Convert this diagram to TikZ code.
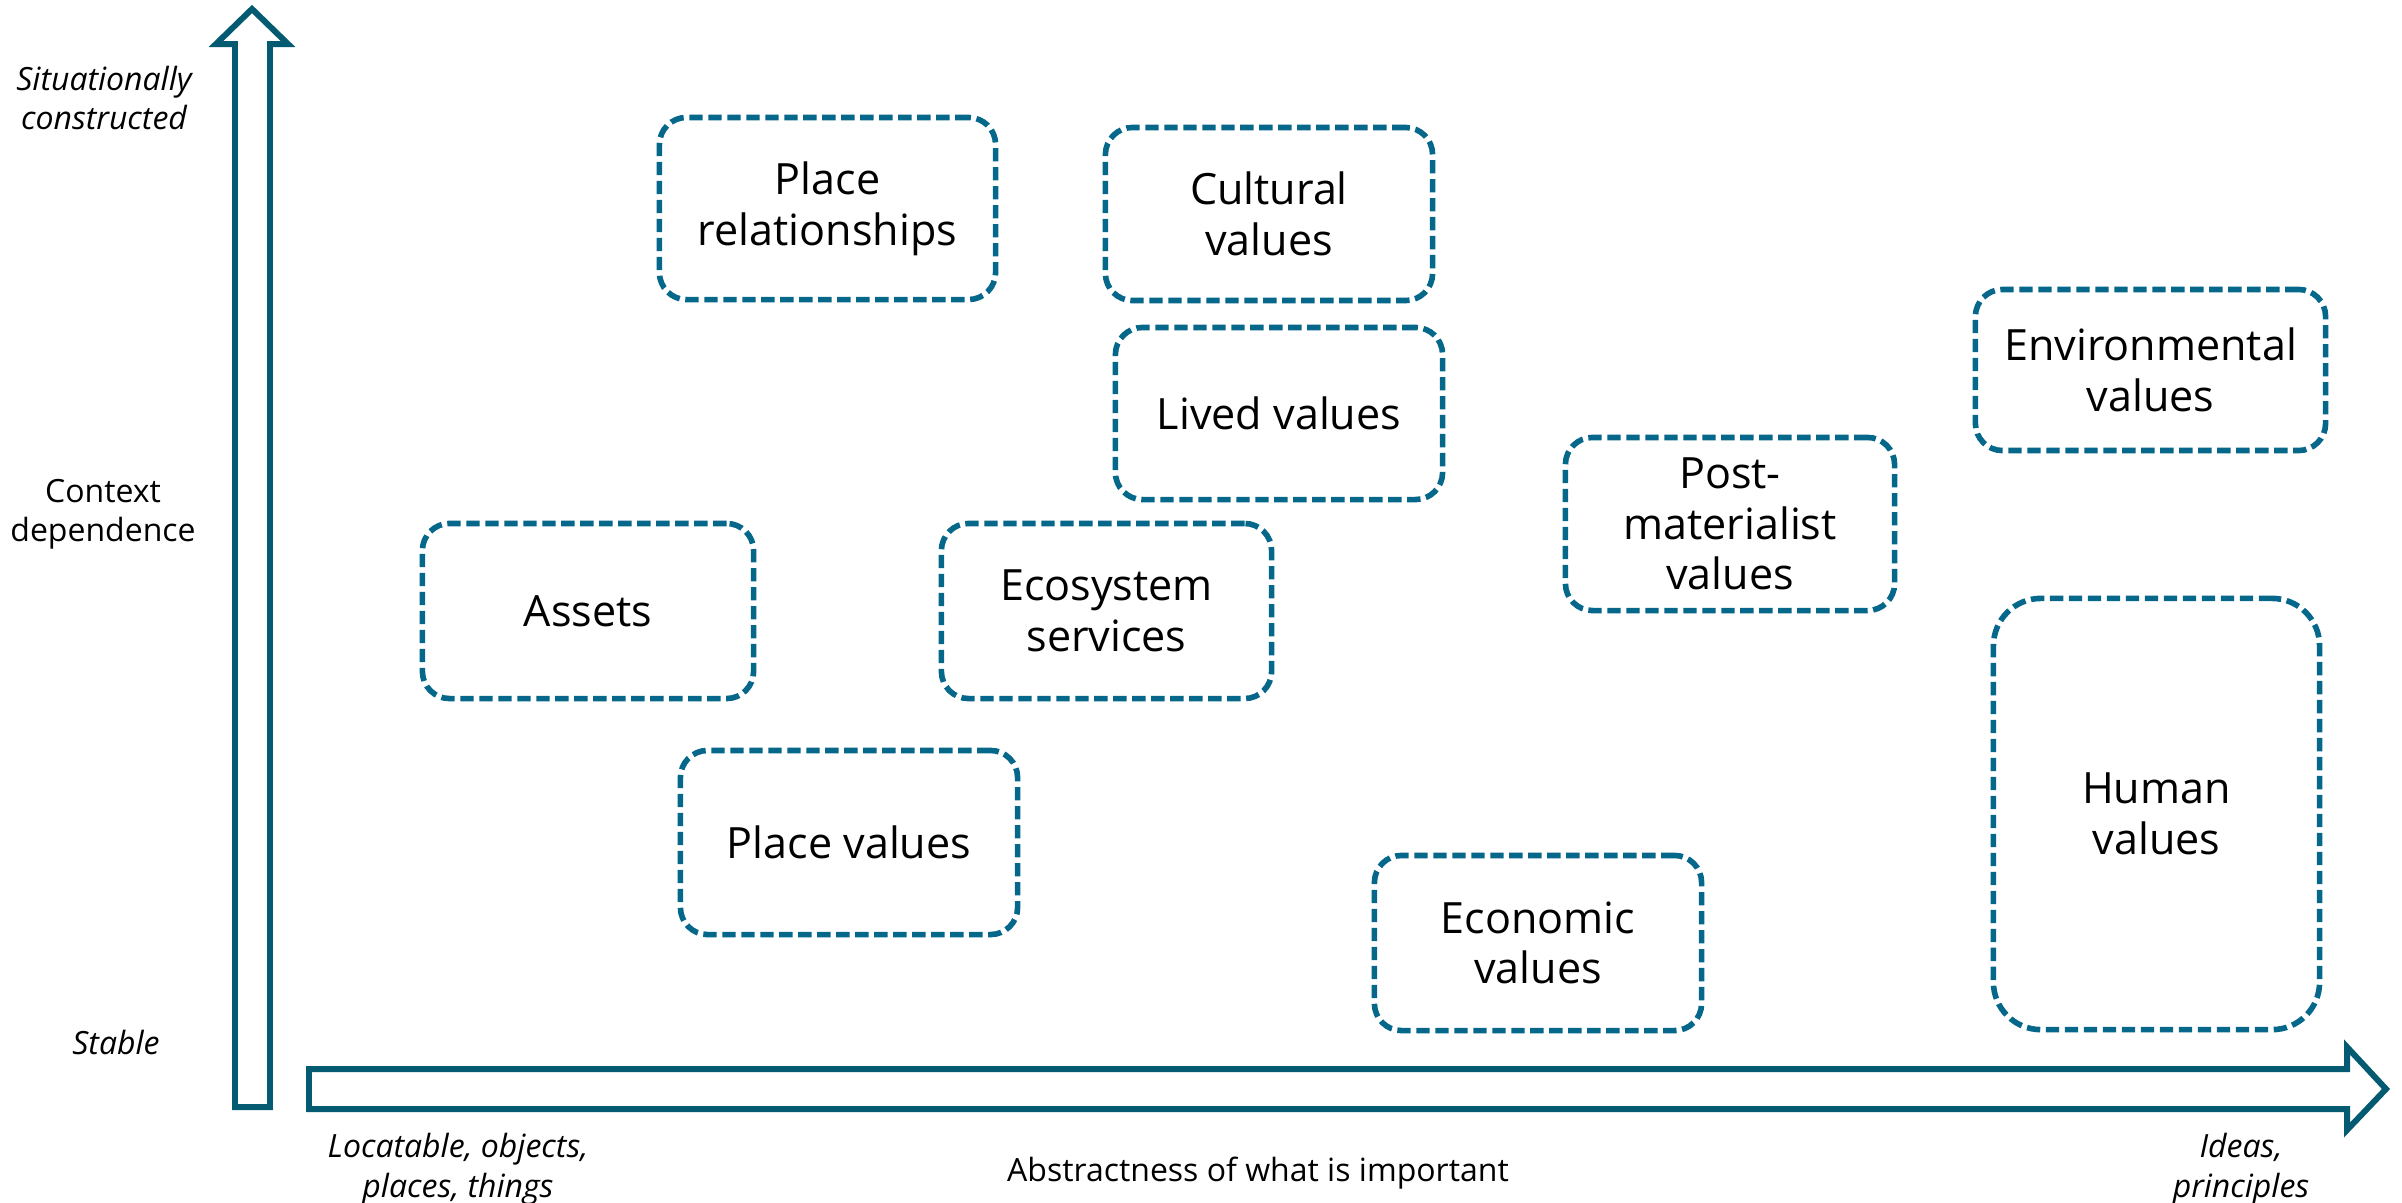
\documentclass[tikz,border=0pt]{standalone}
\usepackage{fontspec}
\setmainfont{Open Sans}
\definecolor{axisteal}{HTML}{045A70}
\definecolor{boxteal}{HTML}{05678A}
\tikzset{valbox/.style = {draw=boxteal, line width=1.6pt, dash pattern=on 3.8pt off 1.6pt, rounded corners=7.7pt, align=center, inner sep=0, font=\fontsize{12.25}{14.4}\selectfont}}
\tikzset{axislabel/.style = {align=center, inner sep=0, font=\fontsize{9.1}{11.2}\selectfont}}

\begin{document}
\begin{tikzpicture}[x=0.01cm, y=-0.01cm,
    axis/.style={draw=axisteal, line width=1.7pt, line join=miter},
    ]
    \useasboundingbox (0,0) rectangle (2402,1202);

    % Vertical axis arrow
    \draw[axis] (252,9) -- (288,44) -- (270,44) -- (270,1107) -- (235,1107) -- (235,44) -- (216,44) -- cycle;
    % Horizontal axis arrow
    \draw[axis] (2386,1089) -- (2347,1130) -- (2347,1109) -- (309,1109) -- (309,1069) -- (2347,1069) -- (2347,1047) -- cycle;

    % Vertical axis labels
    \node[axislabel] (situated) at (104,98) {\itshape Situationally\\\itshape constructed};
    \node[axislabel] (context) at (103,514) {Context\\dependence};
    \node[axislabel] (stable) at (116,1042) {\itshape Stable};

    % Horizontal axis labels
    \node[axislabel] (concrete) at (458,1169) {\itshape Locatable, objects,\\\itshape places, things};
    \node[axislabel] (abstract) at (1258,1173) {Abstractness of what is important};
    \node[axislabel] (ideas) at (2241,1169) {\itshape Ideas,\\\itshape principles};

    % Kinds of values
    \node[valbox, minimum width=3.36cm, minimum height=1.82cm] (placerel) at (827.5,208.5) {Place\\relationships};
    \node[valbox, minimum width=3.27cm, minimum height=1.73cm] (cultural) at (1269,214) {Cultural\\values};
    \node[valbox, minimum width=3.27cm, minimum height=1.72cm] (lived) at (1279,413.5) {Lived values};
    \node[valbox, minimum width=3.50cm, minimum height=1.61cm] (environ) at (2150.5,370) {Environmental\\values};
    \node[valbox, minimum width=3.29cm, minimum height=1.73cm] (postmat) at (1730,524) {Post-\\materialist\\values};
    \node[valbox, minimum width=3.31cm, minimum height=1.75cm] (assets) at (588,611) {Assets};
    \node[valbox, minimum width=3.30cm, minimum height=1.75cm] (ecosys) at (1106.5,611) {Ecosystem\\services};
    \node[valbox, minimum width=3.37cm, minimum height=1.84cm] (placeval) at (849,842.5) {Place values};
    \node[valbox, minimum width=3.27cm, minimum height=1.75cm] (economic) at (1538,943) {Economic\\values};
    \node[valbox, rounded corners=13.5pt, minimum width=3.26cm, minimum height=4.31cm] (human) at (2156.5,814) {Human\\values};

\end{tikzpicture}
\end{document}
